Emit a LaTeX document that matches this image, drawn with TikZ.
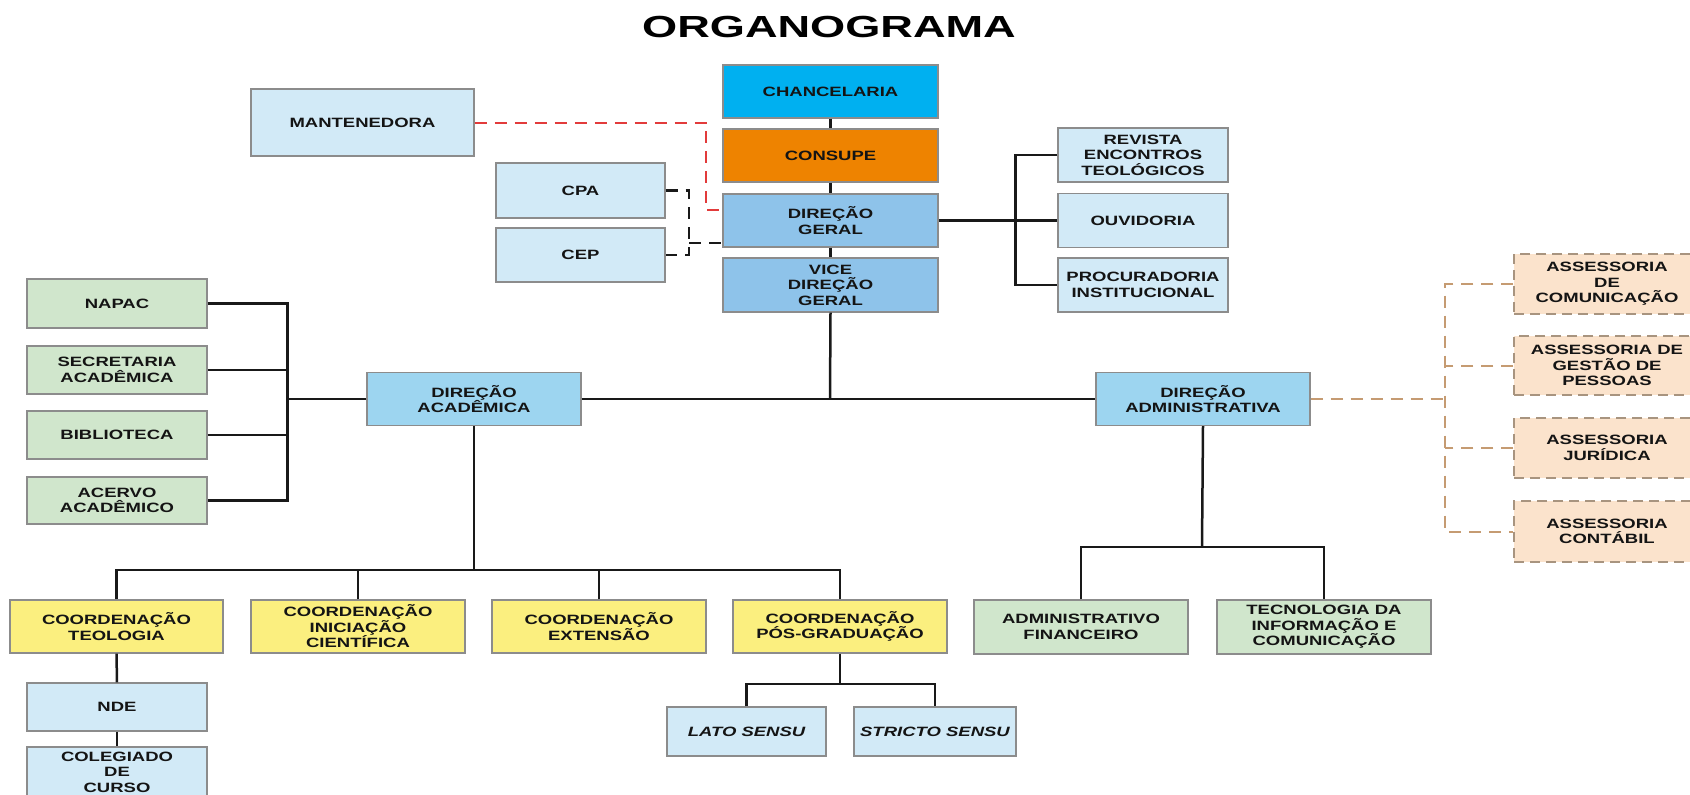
\documentclass[tikz,border=0pt]{standalone}
\usepackage{fontspec}
\setmainfont{Liberation Sans}[FakeStretch=1.37]
\newfontfamily\titlefont{Liberation Sans}[FakeStretch=1.48]
\definecolor{chanblue}{HTML}{00B0F0}
\definecolor{consorange}{HTML}{EE8300}
\definecolor{dgblue}{HTML}{8EC3EA}
\definecolor{dablue}{HTML}{9DD5F0}
\definecolor{lblue}{HTML}{D2EAF7}
\definecolor{lgreen}{HTML}{D0E6CC}
\definecolor{lyellow}{HTML}{FBEF7F}
\definecolor{peach}{HTML}{FBE3CC}
\definecolor{boxborder}{HTML}{8C8C8C}
\definecolor{peachborder}{HTML}{A8947F}
\definecolor{orgline}{HTML}{C59B72}
\definecolor{redline}{HTML}{E23B3B}
\definecolor{txt}{HTML}{141414}
\begin{document}
\begin{tikzpicture}[x=1pt,y=-1pt,
  box/.style={draw=boxborder, line width=1.2pt, inner sep=0pt, align=center,
    font=\fontsize{13.5}{15.5}\selectfont\bfseries, text=txt},
  sz/.style 2 args={minimum width=#1, minimum height=#2},
  abox/.style={box, fill=peach, draw=peachborder, dash pattern=on 10pt off 6pt},
  conn/.style={line width=2.5pt, draw=black!90},
  reddash/.style={line width=2pt, draw=redline, dash pattern=on 12pt off 8pt},
  blkdash/.style={line width=2.5pt, draw=black!90, dash pattern=on 12pt off 8pt},
  orgdash/.style={line width=2pt, draw=orgline, dash pattern=on 12pt off 8pt}]
\useasboundingbox (0,0) rectangle (1690,795);

% title
\node[anchor=base, inner sep=0pt, font=\titlefont\fontsize{30.5}{32}\selectfont\bfseries] (title) at (829,37) {ORGANOGRAMA};

% central column
\node[box, fill=chanblue, sz={215pt}{53pt}] (chan) at (830.5,91.5) {CHANCELARIA};
\node[box, fill=consorange, sz={215pt}{53pt}] (cons) at (830.5,155.5) {CONSUPE};
\node[box, fill=dgblue, sz={215pt}{53pt}] (dg) at (830.5,220.5) {DIREÇÃO\\GERAL};
\node[box, fill=dgblue, sz={215pt}{54pt}] (vdg) at (830.5,285) {VICE\\DIREÇÃO\\GERAL};

% left of centre
\node[box, fill=lblue, sz={223pt}{67pt}] (mant) at (362.5,122.5) {MANTENEDORA};
\node[box, fill=lblue, sz={169pt}{55pt}] (cpa) at (580.5,190.5) {CPA};
\node[box, fill=lblue, sz={169pt}{54pt}] (cep) at (580.5,255) {CEP};

% right of centre
\node[box, fill=lblue, sz={170pt}{54pt}] (rev) at (1143,155) {REVISTA\\ENCONTROS\\TEOLÓGICOS};
\node[box, fill=lblue, sz={170pt}{54pt}] (ouv) at (1143,220.5) {OUVIDORIA};
\node[box, fill=lblue, sz={170pt}{54pt}] (proc) at (1143,285) {PROCURADORIA\\INSTITUCIONAL};

% left green column
\node[box, fill=lgreen, sz={180pt}{49pt}] (napac) at (117,303.5) {NAPAC};
\node[box, fill=lgreen, sz={180pt}{48pt}] (sec) at (117,370) {SECRETARIA\\ACADÊMICA};
\node[box, fill=lgreen, sz={180pt}{48pt}] (bib) at (117,435) {BIBLIOTECA};
\node[box, fill=lgreen, sz={180pt}{47pt}] (acer) at (117,500.5) {ACERVO\\ACADÊMICO};

% directions
\node[box, fill=dablue, sz={214pt}{53pt}] (da) at (474,399) {DIREÇÃO\\ACADÊMICA};
\node[box, fill=dablue, sz={214pt}{53pt}] (dadm) at (1203,399) {DIREÇÃO\\ADMINISTRATIVA};

% assessorias (cut by the right edge)
\node[abox, sz={186pt}{60pt}] (acom) at (1607,284) {ASSESSORIA\\DE\\COMUNICAÇÃO};
\node[abox, sz={186pt}{59pt}] (ages) at (1607,365.5) {ASSESSORIA DE\\GESTÃO DE\\PESSOAS};
\node[abox, sz={186pt}{60pt}] (ajur) at (1607,448) {ASSESSORIA\\JURÍDICA};
\node[abox, sz={186pt}{61pt}] (acon) at (1607,531.5) {ASSESSORIA\\CONTÁBIL};

% coordinations
\node[box, fill=lyellow, sz={213pt}{53pt}] (cteo) at (116.5,626.5) {COORDENAÇÃO\\TEOLOGIA};
\node[box, fill=lyellow, sz={214pt}{53pt}] (cini) at (358,626.5) {COORDENAÇÃO\\INICIAÇÃO\\CIENTÍFICA};
\node[box, fill=lyellow, sz={214pt}{53pt}] (cext) at (599,626.5) {COORDENAÇÃO\\EXTENSÃO};
\node[box, fill=lyellow, sz={214pt}{53pt}] (cpos) at (840,626.5) {COORDENAÇÃO\\PÓS-GRADUAÇÃO};

\node[box, fill=lblue, sz={180pt}{48pt}] (nde) at (117,707) {NDE};
\node[box, fill=lblue, sz={180pt}{50pt}] (coleg) at (117,772) {COLEGIADO\\DE\\CURSO};

\node[box, fill=lblue, sz={159pt}{49pt}, font=\fontsize{13.5}{15.5}\selectfont\bfseries\itshape] (lato) at (746.5,731.5) {LATO SENSU};
\node[box, fill=lblue, sz={162pt}{49pt}, font=\fontsize{13.5}{15.5}\selectfont\bfseries\itshape] (stri) at (935,731.5) {STRICTO SENSU};

\node[box, fill=lgreen, sz={214pt}{54pt}] (admf) at (1081,627) {ADMINISTRATIVO\\FINANCEIRO};
\node[box, fill=lgreen, sz={214pt}{54pt}] (tic) at (1324,627) {TECNOLOGIA DA\\INFORMAÇÃO E\\COMUNICAÇÃO};

% helper coordinates
\coordinate (rk) at (706,210);
\coordinate (bk) at (689,243);
\coordinate (hA) at (474,570);
\coordinate (hP) at (840,684);
\coordinate (hD) at (1202,547);
\coordinate (main) at (830,399);
\coordinate (ob) at (1445,399);

% central trunk
\draw[conn] (chan.south) -- (cons.north);
\draw[conn] (cons.south) -- (dg.north);
\draw[conn] (dg.south) -- (vdg.north);
\draw[conn] (vdg.south) -- (main);
\draw[conn] (da.east) -- (dadm.west);

% right bracket
\draw[conn] (dg.east) -- (ouv.west);
\draw[conn] (rev.west) -- ++(-42,0) |- (proc.west);

% left bracket
\draw[conn] (napac.east) -- ++(80,0) |- (acer.east);
\draw[conn] (sec.east) -- ++(80,0);
\draw[conn] (bib.east) -- ++(80,0);
\draw[conn] (da.west) -- ++(-80,0);

% dashed links
\draw[reddash] (mant.east) -| (rk) -- (rk -| dg.west);
\draw[blkdash] (cpa.east) -| (bk |- cep.east) -- (cep.east);
\draw[blkdash] (bk) -- (bk -| dg.west);
\draw[orgdash] (dadm.east) -- (ob);
\draw[orgdash] (acom.west) -| (ob |- acon.west) -- (acon.west);
\draw[orgdash] (ages.west) -- (ages.west -| ob);
\draw[orgdash] (ajur.west) -- (ajur.west -| ob);

% academic tree
\draw[conn] (da.south) -- (hA);
\draw[conn] (cteo.north) |- (hA) -| (cpos.north);
\draw[conn] (cini.north) -- (cini.north |- hA);
\draw[conn] (cext.north) -- (cext.north |- hA);
\draw[conn] (cteo.south) -- (nde.north);
\draw[conn] (nde.south) -- (coleg.north);
\draw[conn] (cpos.south) -- (hP);
\draw[conn] (lato.north) |- (hP) -| (stri.north);

% administrative tree
\draw[conn] (dadm.south) -- (hD);
\draw[conn] (admf.north) |- (hD) -| (tic.north);
\end{tikzpicture}
\end{document}
